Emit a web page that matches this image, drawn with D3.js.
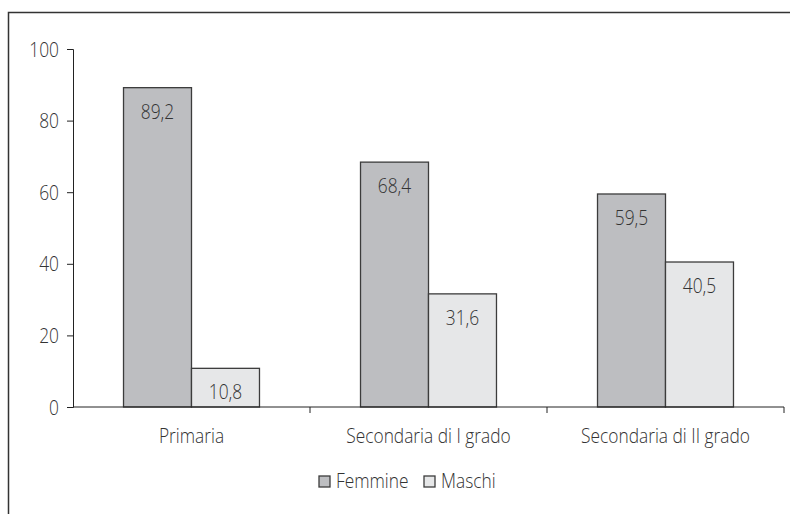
<!DOCTYPE html>
<html>
<head>
<meta charset="utf-8">
<script src="https://cdn.jsdelivr.net/npm/d3@7"></script>
<style>
  html, body { margin: 0; padding: 0; background: #fff; }
  svg text {
    font-family: "Open Sans", "Noto Sans", sans-serif;
    font-weight: 300;
    fill: #333;
  }
</style>
</head>
<body>
<svg id="chart" width="790" height="514"></svg>
<script>
// Teachers by gender and school level (%)
const categories = ["Primaria", "Secondaria di I grado", "Secondaria di II grado"];
const seriesNames = ["Femmine", "Maschi"];
const femmine = [89.2, 68.4, 59.5];
const maschi = [10.8, 31.6, 40.5];
const yTicks = [0, 20, 40, 60, 80, 100];

const colors = { Femmine: "#bdbec1", Maschi: "#e6e7e8" };
const strokeCol = "#3c3c3c";
const FS = 19.5;
const NARROW = 0.89;

// narrow the lettering horizontally around each label's own anchor point
function narrow(sel) {
  sel.attr("transform", function () {
    const x = +this.getAttribute("x") || 0;
    return `translate(${x},0) scale(${NARROW},1) translate(${-x},0)`;
  });
}

const svg = d3.select("#chart");

// outer frame
svg.append("rect")
  .attr("x", 8.5).attr("y", 12.5)
  .attr("width", 800).attr("height", 520)
  .attr("fill", "none").attr("stroke", "#333").attr("stroke-width", 1.5);

const plot = { left: 73, right: 784, top: 49, bottom: 407 };

const x0 = d3.scaleBand().domain(categories).range([plot.left, plot.right]).padding(0);
const x1 = d3.scaleBand().domain(seriesNames)
  .range([0, x0.bandwidth()]).paddingInner(0).paddingOuter(0.743);
const y = d3.scaleLinear().domain([0, 100]).range([plot.bottom, plot.top]);

const rows = categories.map((c, i) => ({
  cat: c,
  vals: [{ s: "Femmine", v: femmine[i] }, { s: "Maschi", v: maschi[i] }]
}));

// bars
const groups = svg.append("g").selectAll("g").data(rows).join("g")
  .attr("transform", d => `translate(${x0(d.cat)},0)`);

groups.selectAll("rect").data(d => d.vals).join("rect")
  .attr("x", d => x1(d.s))
  .attr("y", d => y(d.v))
  .attr("width", x1.bandwidth())
  .attr("height", d => y(0) - y(d.v))
  .attr("fill", d => colors[d.s])
  .attr("stroke", strokeCol)
  .attr("stroke-width", 1.3);

groups.selectAll("text").data(d => d.vals).join("text")
  .attr("x", d => x1(d.s) + x1.bandwidth() / 2)
  .attr("y", d => y(d.v) + 31)
  .attr("text-anchor", "middle")
  .attr("font-size", FS)
  .text(d => d.v.toFixed(1).replace(".", ","))
  .call(narrow);

// y axis
const yAxis = svg.append("g")
  .attr("transform", `translate(${plot.left},0)`)
  .call(d3.axisLeft(y).tickValues(yTicks).tickSize(6).tickPadding(8));
yAxis.select(".domain").attr("stroke", "#222");
yAxis.selectAll(".tick line").attr("stroke", "#222");
yAxis.selectAll(".tick text").attr("font-size", FS).attr("dy", "0.36em").call(narrow);

// x axis
const xAxis = svg.append("g")
  .attr("transform", `translate(0,${plot.bottom})`)
  .call(d3.axisBottom(x0).tickSize(0).tickPadding(22));
xAxis.select(".domain").attr("stroke", "#222").attr("d", `M${plot.left},0H${plot.right}`);
xAxis.selectAll(".tick text").attr("font-size", FS).call(narrow);
// category separators
svg.append("g").selectAll("line")
  .data(categories.slice(1).concat(["end"]))
  .join("line")
  .attr("x1", d => d === "end" ? plot.right : x0(d))
  .attr("x2", d => d === "end" ? plot.right : x0(d))
  .attr("y1", plot.bottom).attr("y2", plot.bottom + 6)
  .attr("stroke", "#222");

// legend
const legend = svg.append("g").attr("transform", "translate(319,476)");
const items = [{ s: "Femmine", dx: 0 }, { s: "Maschi", dx: 105 }];
const li = legend.selectAll("g").data(items).join("g")
  .attr("transform", d => `translate(${d.dx},0)`);
li.append("rect").attr("width", 11).attr("height", 11)
  .attr("fill", d => colors[d.s]).attr("stroke", strokeCol).attr("stroke-width", 1.3);
li.append("text").attr("x", 17).attr("y", 12)
  .attr("font-size", FS).text(d => d.s).call(narrow);
</script>
</body>
</html>
